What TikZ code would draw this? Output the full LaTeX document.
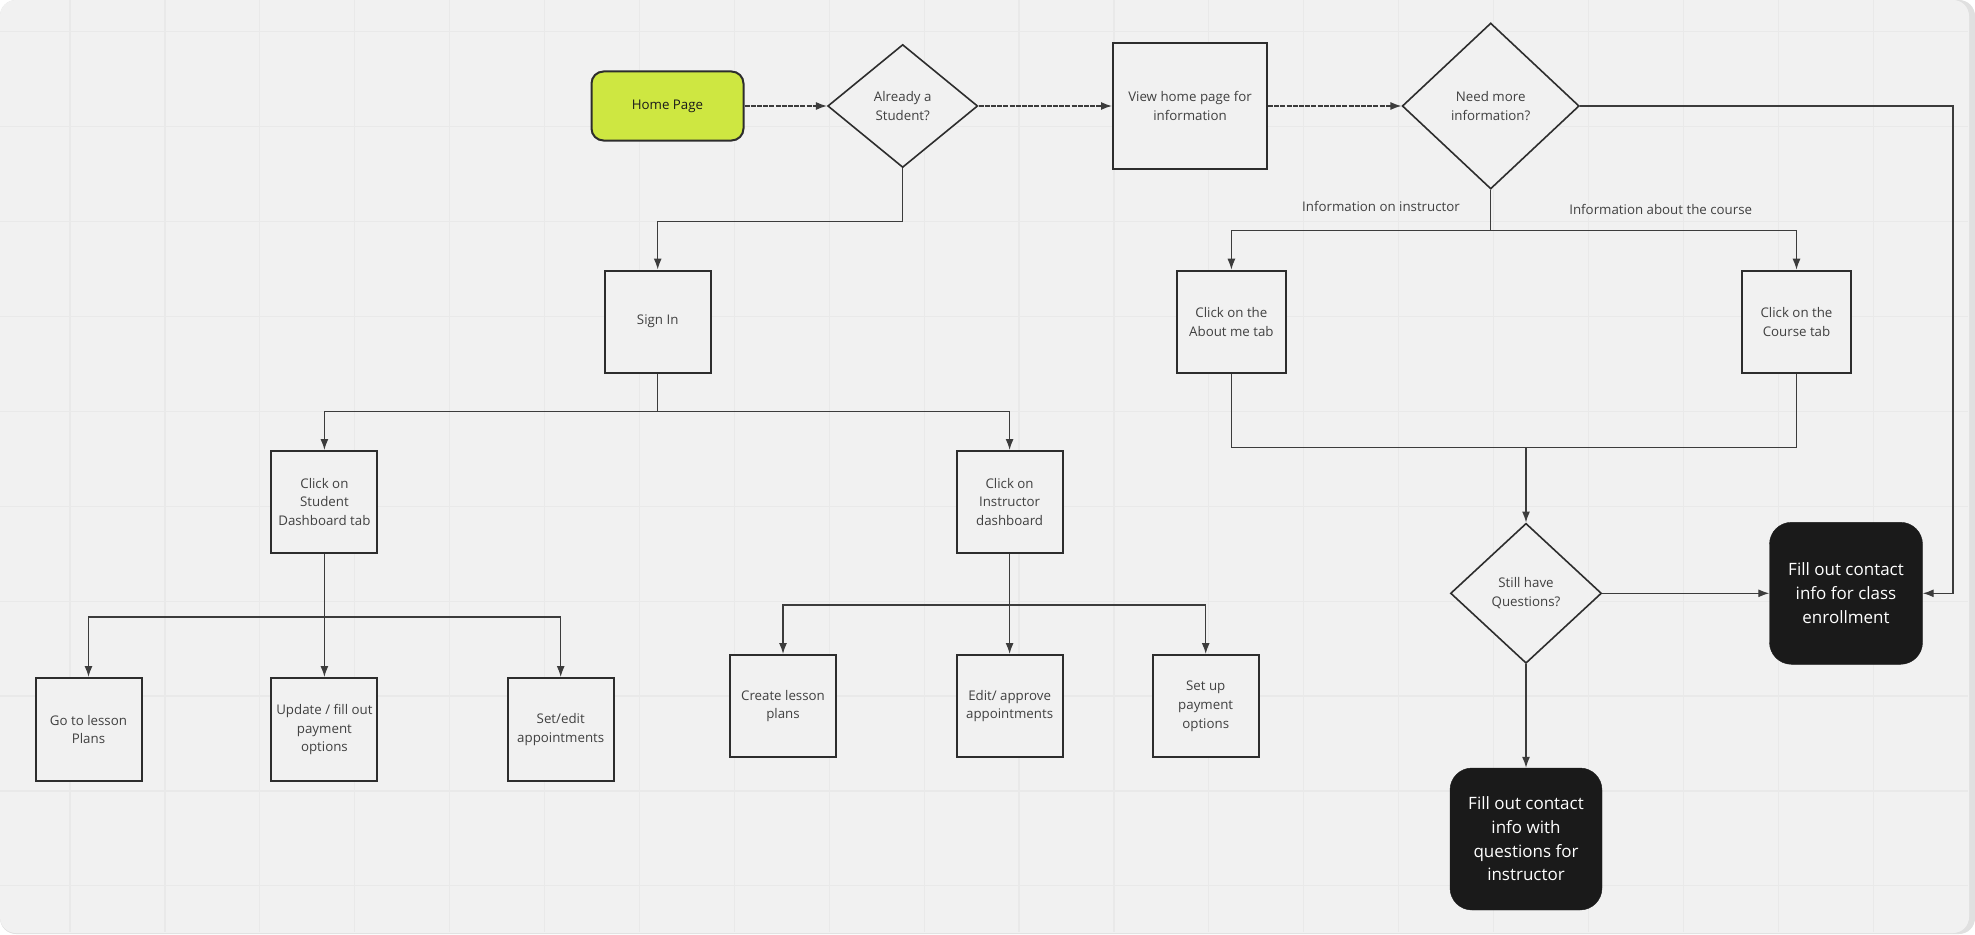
\documentclass[tikz,border=0pt]{standalone}
\usepackage{fontspec}
\setmainfont{Open Sans}
\usetikzlibrary{shapes.geometric,arrows.meta,positioning}
\definecolor{canvas}{RGB}{241,241,241}
\definecolor{gridline}{RGB}{233,233,233}
\definecolor{shadowgray}{RGB}{224,224,224}
\definecolor{boxline}{RGB}{45,45,45}
\definecolor{flowline}{RGB}{60,60,60}
\definecolor{inkgray}{RGB}{64,64,64}
\definecolor{limegreen}{RGB}{206,231,65}
\definecolor{nearblack}{RGB}{26,26,26}
\newcommand{\boxfont}{\fontsize{13.3}{18.8}\selectfont}
\newcommand{\termfont}{\fontsize{17}{23.7}\selectfont}

\begin{document}
\begin{tikzpicture}[
  x=1pt, y=-1pt,
  box/.style={
    draw=boxline, line width=2pt, fill=canvas,
    minimum width=106pt, minimum height=102pt, inner sep=2pt,
    align=center, font=\boxfont, text=inkgray
  },
  decision/.style={
    diamond, draw=boxline, line width=1.6pt, fill=canvas, inner sep=0pt,
    align=center, font=\boxfont, text=inkgray
  },
  startbox/.style={
    draw=boxline, line width=2pt, fill=limegreen, rounded corners=12pt,
    minimum width=152pt, minimum height=69pt,
    font=\boxfont, text=nearblack
  },
  endbox/.style={
    draw=nearblack, fill=nearblack, rounded corners=22pt,
    minimum width=153pt, minimum height=142pt,
    align=center, font=\termfont, text=white
  },
  arr/.style={-{Latex[length=11pt,width=8pt]}, line width=1.3pt, flowline},
  link/.style={line width=1.3pt, flowline},
  lbl/.style={font=\boxfont, text=inkgray}
]

%% ── CANVAS ──
\useasboundingbox (0,0) rectangle (1975,934);
\fill[white] (0,0) rectangle (1975,934);
\fill[shadowgray, rounded corners=16pt] (0,0) rectangle (1975,934);
\fill[canvas, rounded corners=16pt] (0,0) rectangle (1969,933);
\foreach \gx in {0,...,19}
  \draw[gridline, line width=1.2pt] ({70+94.9*\gx},0) -- ({70+94.9*\gx},932);
\foreach \gy in {0,...,9}
  \draw[gridline, line width=1.2pt] (0,{31.7+94.9*\gy}) -- (1968,{31.7+94.9*\gy});

%% ── TOP ROW ──
\node[startbox] (home) at (667.5,106) {Home Page};
\node[decision, minimum width=150pt, minimum height=123pt] (student) at (902.7,106)
  {Already a\\Student?};
\node[box, minimum width=154pt, minimum height=125pt] (viewhome) at (1190,106)
  {View home page for\\information};
\node[decision, minimum width=177pt, minimum height=166pt] (moreinfo) at (1490.7,106)
  {Need more\\information?};

\draw[arr, dash pattern=on 5pt off 1.2pt] (home.east) -- (student.west);
\draw[arr, dash pattern=on 5pt off 1.2pt] (student.east) -- (viewhome.west);
\draw[arr, dash pattern=on 5pt off 1.2pt] (viewhome.east) -- (moreinfo.west);

%% ── STUDENT SIDE ──
\node[box] (signin) at (657.7,321.5) {Sign In};
\node[box] (studentdash) at (324.4,502) {Click on\\Student\\Dashboard tab};
\node[box] (instructdash) at (1009.6,502) {Click on\\Instructor\\dashboard};

\node[box, minimum height=103pt] (lessonplans) at (88.5,729.5) {Go to lesson\\Plans};
\node[box, minimum height=103pt] (payment) at (324.4,729.5) {Update / fill out\\payment\\options};
\node[box, minimum height=103pt] (appoint) at (560.7,729.5) {Set/edit\\appointments};

\node[box] (createplans) at (783,706) {Create lesson\\plans};
\node[box] (approve) at (1009.6,706) {Edit/ approve\\appointments};
\node[box] (setuppay) at (1205.7,706) {Set up\\payment\\options};

\draw[arr] (student.south) -- ++(0,53) -| (signin.north);
\draw[link] (signin.south) -- ++(0,38) coordinate (signjoin);
\draw[arr] (signjoin) -| (studentdash.north);
\draw[arr] (signjoin) -| (instructdash.north);

\draw[link] (studentdash.south) -- ++(0,63) coordinate (studjoin);
\draw[arr] (studjoin) -| (lessonplans.north);
\draw[arr] (studjoin) -- (payment.north);
\draw[arr] (studjoin) -| (appoint.north);

\draw[link] (instructdash.south) -- ++(0,51) coordinate (instjoin);
\draw[arr] (instjoin) -| (createplans.north);
\draw[arr] (instjoin) -- (approve.north);
\draw[arr] (instjoin) -| (setuppay.north);

%% ── INFORMATION SIDE ──
\node[box, minimum width=109pt] (aboutme) at (1231.4,321.7) {Click on the\\About me tab};
\node[box, minimum width=109pt] (coursetab) at (1796.5,321.7) {Click on the\\Course tab};
\node[lbl] (instlabel) at (1381,206.7) {Information on instructor};
\node[lbl] (courselabel) at (1660.7,209.3) {Information about the course};

\node[decision, minimum width=151pt, minimum height=140pt] (stillq) at (1526,593.3)
  {Still have\\Questions?};
\node[endbox] (enroll) at (1846,593.3) {Fill out contact\\info for class\\enrollment};
\node[endbox, minimum width=152pt] (askinst) at (1526,839)
  {Fill out contact\\info with\\questions for\\instructor};

\draw[link] (moreinfo.south) -- ++(0,41) coordinate (infojoin);
\draw[arr] (infojoin) -| (aboutme.north);
\draw[arr] (infojoin) -| (coursetab.north);

\draw[link] (aboutme.south) -- ++(0,74) coordinate (mergejoin) -| (coursetab.south);
\draw[arr] (mergejoin -| stillq.north) -- (stillq.north);

\draw[arr] (stillq.east) -- (enroll.west);
\draw[arr] (stillq.south) -- (askinst.north);
\draw[arr] (moreinfo.east) -- ++(373,0) |- (enroll.east);

\end{tikzpicture}
\end{document}
